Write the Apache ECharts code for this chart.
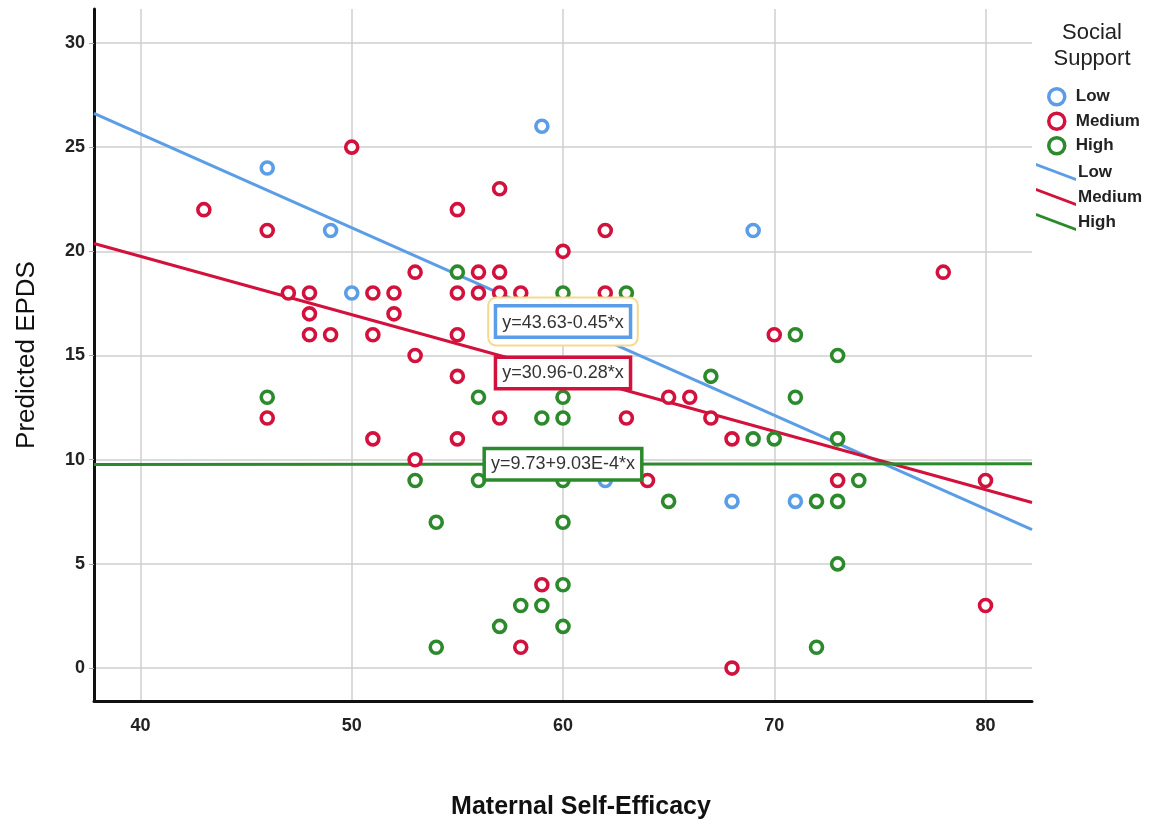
<!DOCTYPE html>
<html>
<head>
<meta charset="utf-8">
<script src="https://cdn.jsdelivr.net/npm/echarts@6/dist/echarts.min.js"></script>
<style>html,body{margin:0;padding:0;background:#fff}#c{width:1169px;height:825px}</style>
</head>
<body>
<div id="c"></div>
<script>
// ---- data ----
const xTicks = [40, 50, 60, 70, 80];
const yTicks = [0, 5, 10, 15, 20, 25, 30];
const groups = ['Low', 'Medium', 'High'];

const lowX = [46, 49, 50, 59, 69, 62, 68, 71];
const lowY = [24, 21, 18, 26, 21, 9, 8, 8];

const medX = [43, 46, 50, 47, 48, 51, 52, 48, 52, 48, 49, 51, 53, 53, 55, 57, 62, 60, 56, 57, 55, 56, 57, 58, 62, 55, 58, 55, 57, 63, 55, 53, 64, 65, 66, 67, 59, 58, 46, 51, 78, 70, 68, 73, 80, 80, 68];
const medY = [22, 21, 25, 18, 18, 18, 18, 17, 17, 16, 16, 16, 19, 15, 22, 23, 21, 20, 19, 19, 18, 18, 18, 18, 18, 16, 16, 14, 12, 12, 11, 10, 9, 13, 13, 12, 4, 1, 12, 11, 19, 16, 11, 9, 9, 3, 0];

const highX = [55, 60, 63, 56, 60, 59, 60, 53, 56, 60, 54, 60, 65, 67, 60, 58, 59, 57, 60, 54, 46, 71, 73, 69, 70, 71, 73, 74, 72, 73, 73, 72];
const highY = [19, 18, 18, 13, 13, 12, 12, 9, 9, 9, 7, 7, 8, 14, 4, 3, 3, 2, 2, 1, 13, 16, 15, 11, 11, 13, 11, 9, 8, 8, 5, 1];

// fit lines as printed on the chart: y = a + b*x
const fitIntercept = [43.63, 30.96, 9.73];
const fitSlope = [-0.45, -0.28, 9.03e-4];
const fitLabels = ['y=43.63-0.45*x', 'y=30.96-0.28*x', 'y=9.73+9.03E-4*x'];

const colors = ['#5b9de6', '#d3113d', '#2c8a2c'];
const xMin = 37.8, xMax = 82.2, yMin = -1.58, yMax = 31.63;
const FONT = 'Liberation Sans, Arial, sans-serif';

const zip = (xs, ys) => xs.map((x, i) => [x, ys[i]]);
const pts = [zip(lowX, lowY), zip(medX, medY), zip(highX, highY)];

const series = [];
groups.forEach((g, i) => {
  const a = fitIntercept[i], b = fitSlope[i];
  const lab = {
    show: true, position: 'inside', color: '#333', fontSize: 18, fontFamily: FONT,
    backgroundColor: '#fff', borderColor: colors[i], borderWidth: 3.5,
    padding: [6, 5, 4, 5], formatter: fitLabels[i]
  };
  if (i === 0) {
    Object.assign(lab, {
      formatter: '{b|' + fitLabels[i] + '}',
      borderColor: '#f7d98e', borderWidth: 2, borderRadius: 7, padding: [9, 8, 9, 8],
      rich: { b: { color: '#333', fontSize: 18, fontFamily: FONT,
        backgroundColor: '#fff', borderColor: colors[0], borderWidth: 3.5, padding: [6, 5, 4, 5] } }
    });
  }
  series.push({
    name: g + ' fit', type: 'line', z: 3, symbol: 'none', silent: true,
    data: [[xMin, a + b * xMin], [xMax, a + b * xMax]],
    lineStyle: { color: colors[i], width: 3 },
    itemStyle: { color: colors[i] },
    markPoint: {
      z: 10 + (3 - i), symbol: 'rect', symbolSize: 1, itemStyle: { color: 'rgba(0,0,0,0)' },
      data: [{ coord: [60, a + b * 60], label: lab }]
    }
  });
});
groups.forEach((g, i) => {
  series.push({
    name: g, type: 'scatter', z: 4, symbol: 'circle', symbolSize: 12,
    data: pts[i],
    itemStyle: { color: '#fff', borderColor: colors[i], borderWidth: 3.6, opacity: 1 }
  });
});

const chart = echarts.init(document.getElementById('c'), null, { renderer: 'canvas' });
const legendText = { fontSize: 17, fontWeight: 'bold', color: '#222', fontFamily: FONT };
chart.setOption({
  animation: false,
  backgroundColor: '#fff',
  grid: { left: 94, right: 137, top: 9, bottom: 122 },
  title: {
    text: 'Social\nSupport', left: 1087, top: 15, textAlign: 'center',
    textStyle: { fontSize: 22, fontWeight: 'normal', color: '#222', lineHeight: 26, fontFamily: FONT }
  },
  legend: [
    {
      orient: 'vertical', left: 1042, top: 82, itemGap: 5, itemWidth: 16, itemHeight: 16,
      data: groups.map((g, i) => ({ name: g, icon: 'circle', itemStyle: { color: '#fff', borderColor: colors[i], borderWidth: 3.5 } })),
      textStyle: Object.assign({ padding: [0, 0, 0, 6] }, legendText), selectedMode: false
    },
    {
      orient: 'vertical', left: 1031, top: 158, itemGap: 7, itemWidth: 42, itemHeight: 18,
      data: groups.map((g, i) => ({ name: g + ' fit', icon: 'path://M0,0 L40,15 L40,18 L0,3 Z', itemStyle: { color: colors[i] } })),
      formatter: n => n.replace(' fit', ''),
      textStyle: Object.assign({ padding: [0, 0, 0, -4] }, legendText), selectedMode: false
    }
  ],
  xAxis: {
    type: 'value', min: xMin, max: xMax,
    name: 'Maternal Self-Efficacy', nameLocation: 'middle', nameGap: 94,
    nameTextStyle: { fontSize: 25, fontWeight: 'bold', color: '#111', fontFamily: FONT, padding: [0, 0, 0, 36] },
    axisLine: { show: true, onZero: false, lineStyle: { color: '#111', width: 3 } },
    axisTick: { show: false, customValues: xTicks },
    axisLabel: { customValues: xTicks, margin: 16, fontSize: 18, fontWeight: 'bold', color: '#222', fontFamily: FONT },
    splitLine: { show: true, lineStyle: { color: '#cfcfcf', width: 1.5 } }
  },
  yAxis: {
    type: 'value', min: yMin, max: yMax,
    name: 'Predicted EPDS', nameLocation: 'middle', nameGap: 54,
    nameTextStyle: { fontSize: 26, color: '#111', fontFamily: FONT },
    axisLine: { show: true, onZero: false, lineStyle: { color: '#111', width: 3 } },
    axisTick: { show: true, length: 5, customValues: yTicks, lineStyle: { color: '#aaa' } },
    axisLabel: { customValues: yTicks, margin: 9, fontSize: 18, fontWeight: 'bold', color: '#222', fontFamily: FONT },
    splitLine: { show: true, lineStyle: { color: '#cfcfcf', width: 1.5 } }
  },
  series: series
});
</script>
</body>
</html>
